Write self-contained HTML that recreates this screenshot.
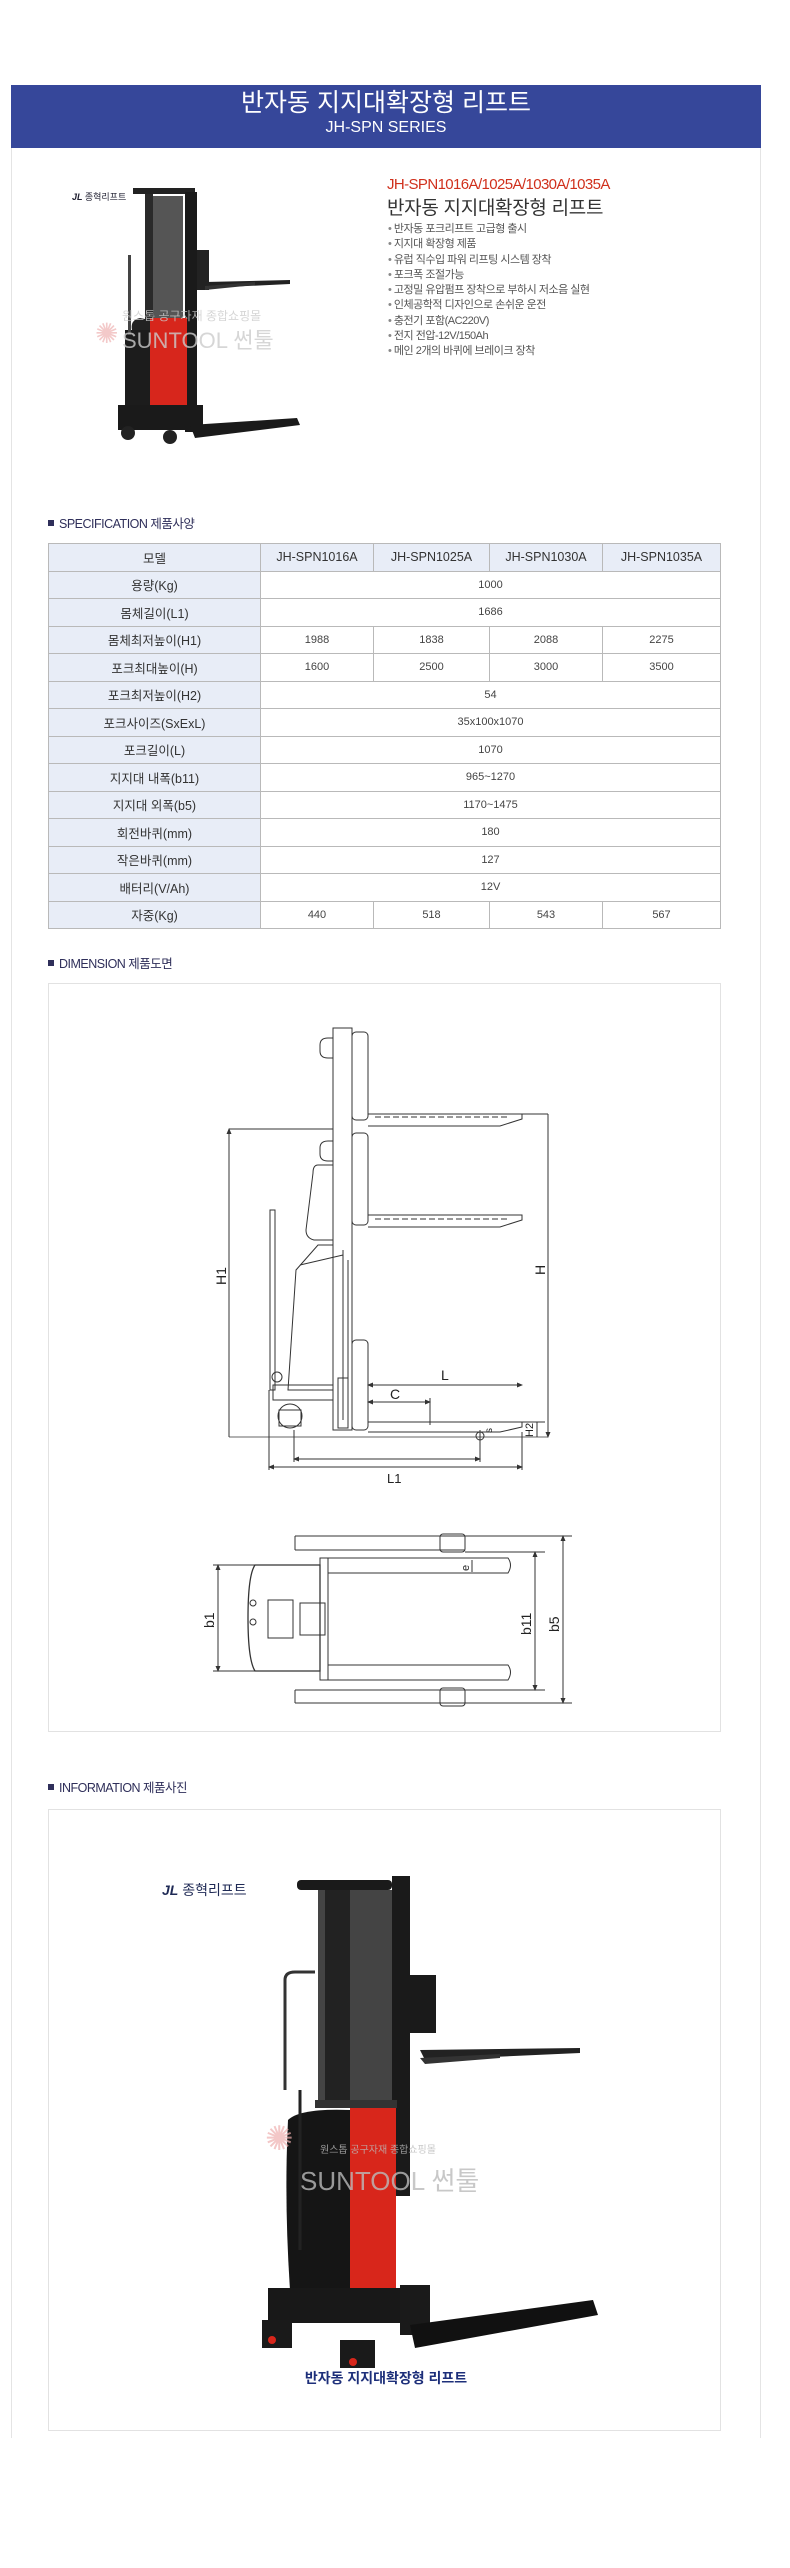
<!DOCTYPE html>
<html><head><meta charset="utf-8">
<style>
*{margin:0;padding:0;box-sizing:border-box}
body{width:790px;height:2568px;background:#fff;position:relative;font-family:"Liberation Sans","Noto Sans CJK KR",sans-serif;overflow:hidden}
.abs{position:absolute}
.hdr{left:11px;top:85px;width:750px;height:63px;background:#36479a;color:#fff;text-align:center}
.container{left:11px;top:148px;width:750px;height:2290px;border-left:1px solid #e4e4e4;border-right:1px solid #e4e4e4}
.h2{font-size:12.5px;color:#2f2f5a;letter-spacing:-0.5px}
.h2:before{content:"";display:inline-block;width:6px;height:6px;background:#2f2f5a;margin-right:5px;vertical-align:2px}
table{border-collapse:collapse;position:absolute;left:48px;top:543px;width:673px;font-size:11px;color:#444}
td{border:1px solid #b9b9b9;height:27.5px;text-align:center;padding:0}
td.l{background:#e8edf7;width:212px;font-size:12.5px;color:#333}
tr.hd td{background:#e8edf7;font-size:12.5px;color:#333}
.box{border:1px solid #e2e2e2;left:48px;width:673px}
ul{list-style:none}
li{font-size:11px;color:#555;height:15.3px;line-height:15.3px;letter-spacing:-0.5px}
li:before{content:"• ";color:#888}
</style></head><body>
<div class="abs container"></div>
<div class="abs hdr">
 <div style="font-size:25px;line-height:28px;padding-top:4px">반자동 지지대확장형 리프트</div>
 <div style="font-size:16px;line-height:22px">JH-SPN SERIES</div>
</div>

<div class="abs" style="left:387px;top:176px;font-size:15px;color:#d0301c;letter-spacing:-0.6px">JH-SPN1016A/1025A/1030A/1035A</div>
<div class="abs" style="left:387px;top:193px;font-size:19px;color:#333;letter-spacing:-0.3px">반자동 지지대확장형 리프트</div>
<ul class="abs" style="left:388px;top:222px">
<li>반자동 포크리프트 고급형 출시</li>
<li>지지대 확장형 제품</li>
<li>유럽 직수입 파워 리프팅 시스템 장착</li>
<li>포크폭 조절가능</li>
<li>고정밀 유압펌프 장착으로 부하시 저소음 실현</li>
<li>인체공학적 디자인으로 손쉬운 운전</li>
<li>충전기 포함(AC220V)</li>
<li>전지 전압-12V/150Ah</li>
<li>메인 2개의 바퀴에 브레이크 장착</li>
</ul>

<div class="abs h2" style="left:48px;top:513px">SPECIFICATION 제품사양</div>
<table>
<tr class="hd"><td class="l">모델</td><td style="width:113px">JH-SPN1016A</td><td style="width:116px">JH-SPN1025A</td><td style="width:113px">JH-SPN1030A</td><td>JH-SPN1035A</td></tr>
<tr><td class="l">용량(Kg)</td><td colspan="4">1000</td></tr>
<tr><td class="l">몸체길이(L1)</td><td colspan="4">1686</td></tr>
<tr><td class="l">몸체최저높이(H1)</td><td>1988</td><td>1838</td><td>2088</td><td>2275</td></tr>
<tr><td class="l">포크최대높이(H)</td><td>1600</td><td>2500</td><td>3000</td><td>3500</td></tr>
<tr><td class="l">포크최저높이(H2)</td><td colspan="4">54</td></tr>
<tr><td class="l">포크사이즈(SxExL)</td><td colspan="4">35x100x1070</td></tr>
<tr><td class="l">포크길이(L)</td><td colspan="4">1070</td></tr>
<tr><td class="l">지지대 내폭(b11)</td><td colspan="4">965~1270</td></tr>
<tr><td class="l">지지대 외폭(b5)</td><td colspan="4">1170~1475</td></tr>
<tr><td class="l">회전바퀴(mm)</td><td colspan="4">180</td></tr>
<tr><td class="l">작은바퀴(mm)</td><td colspan="4">127</td></tr>
<tr><td class="l">배터리(V/Ah)</td><td colspan="4">12V</td></tr>
<tr><td class="l">자중(Kg)</td><td>440</td><td>518</td><td>543</td><td>567</td></tr>
</table>

<div class="abs h2" style="left:48px;top:953px">DIMENSION 제품도면</div>
<div class="abs box" style="top:983px;height:749px"></div>
<div class="abs h2" style="left:48px;top:1777px">INFORMATION 제품사진</div>
<div class="abs box" style="top:1809px;height:622px"></div>

<svg class="abs" style="left:0;top:0" width="790" height="2568" viewBox="0 0 790 2568">
<defs><marker id="a" markerWidth="6" markerHeight="6" refX="5" refY="3" orient="auto-start-reverse"><path d="M0,0.5 L6,3 L0,5.5z" fill="#333"/></marker></defs>
<g>
 <text x="72" y="200" font-size="9" fill="#223" font-family="Liberation Sans,Noto Sans CJK KR,sans-serif" font-style="italic" font-weight="bold">JL <tspan font-style="normal" font-weight="normal">종혁리프트</tspan></text>
 <rect x="133" y="188" width="62" height="6" fill="#222"/>
 <rect x="145" y="194" width="8" height="215" fill="#2a2a2a"/>
 <rect x="153" y="196" width="30" height="140" fill="#555"/>
 <rect x="185" y="192" width="12" height="240" fill="#1a1a1a"/>
 <rect x="197" y="250" width="12" height="40" fill="#222"/>
 <path d="M205,282 L290,280 L290,284 L205,288z" fill="#222"/>
 <path d="M205,286 L255,282 L255,285 L205,290z" fill="#333"/>
 <path d="M132,330 Q130,320 140,318 L150,320 L150,410 L132,410z" fill="#222"/>
 <rect x="150" y="318" width="37" height="92" fill="#d7261c"/>
 <rect x="125" y="330" width="25" height="80" fill="#1c1c1c"/>
 <rect x="128" y="255" width="3" height="80" fill="#444"/>
 <rect x="118" y="405" width="85" height="25" fill="#1a1a1a"/>
 <path d="M190,425 L297,418 L300,425 L195,438z" fill="#1a1a1a"/>
 <circle cx="128" cy="433" r="7" fill="#222"/><circle cx="170" cy="437" r="7" fill="#222"/>
 <text x="95" y="343" font-size="28" fill="#eeb3b3" opacity=".7" font-family="Liberation Sans,sans-serif">✺</text>
 <text x="122" y="348" font-size="22" fill="#ccc" opacity=".8" font-family="Liberation Sans,Noto Sans CJK KR,sans-serif">SUNTOOL 썬툴</text>
 <text x="122" y="320" font-size="12" fill="#ccc" opacity=".8" font-family="Liberation Sans,Noto Sans CJK KR,sans-serif">원스톱 공구자재 종합쇼핑몰</text>
</g>

<g fill="none" stroke="#333" stroke-width="1">
 <rect x="333" y="1028" width="19" height="402"/>
 <rect x="352" y="1032" width="16" height="88" rx="4"/>
 <path d="M320,1045 q0,-7 8,-7 h5 v20 h-5 q-8,0 -8,-7z"/>
 <path d="M368,1114 H522 v5 l-22,7 H368"/><path d="M375,1117 H510" stroke-dasharray="6,3"/>
 <rect x="352" y="1133" width="16" height="92" rx="4"/>
 <path d="M320,1148 q0,-7 8,-7 h5 v20 h-5 q-8,0 -8,-7z"/>
 <path d="M368,1215 H522 v5 l-22,7 H368"/><path d="M375,1219 H510" stroke-dasharray="6,3"/>
 <path d="M229,1129 H333"/>
 <path d="M333,1165 H318 q-5,0 -5,8 L306,1230 q0,8 8,10 H333"/>
 <path d="M333,1245 H318 L296,1270 L288,1390 H333"/>
 <path d="M300,1265 L343,1255 M343,1250 V1420 M348,1260 V1380"/>
 <rect x="270" y="1210" width="5" height="180"/>
 <circle cx="277" cy="1377" r="5"/>
 <rect x="273" y="1385" width="60" height="15"/>
 <circle cx="290" cy="1416" r="12"/><rect x="279" y="1410" width="22" height="16"/>
 <rect x="338" y="1378" width="10" height="50"/>
 <rect x="352" y="1340" width="16" height="90" rx="4"/>
 <path d="M368,1422 H522 v5 l-22,5 H368"/>
 <path d="M229,1437 H548" stroke-width=".8"/>
 <path d="M229,1129 V1437 M548,1114 V1437" marker-start="url(#a)" marker-end="url(#a)"/>
 <path d="M522,1114 H548"/>
 <path d="M368,1385 H522" marker-start="url(#a)" marker-end="url(#a)"/>
 <path d="M368,1402 H430" marker-start="url(#a)" marker-end="url(#a)"/>
 <path d="M430,1398 V1425"/>
 <path d="M537,1422 V1437 M522,1422 H545"/>
 <path d="M269,1390 V1470 M522,1432 V1470 M294,1430 V1462 M480,1430 V1462"/>
 <path d="M269,1467 H522" marker-start="url(#a)" marker-end="url(#a)"/>
 <path d="M294,1459 H480" marker-start="url(#a)" marker-end="url(#a)"/>
 <circle cx="480" cy="1436" r="4"/>
</g>
<g font-family="Liberation Sans,sans-serif" font-size="14" fill="#222">
 <text transform="translate(226,1285) rotate(-90)">H1</text>
 <text transform="translate(545,1275) rotate(-90)">H</text>
 <text x="441" y="1380">L</text>
 <text x="390" y="1399">C</text>
 <text transform="translate(533,1437) rotate(-90)" font-size="11">H2</text>
 <text transform="translate(492,1433) rotate(-90)" font-size="10">s</text>
 <text x="387" y="1483" font-size="13">L1</text>
</g>

<g fill="none" stroke="#333" stroke-width="1">
 <path d="M295,1536 H465 M295,1550 H465 M295,1536 V1550 M295,1690 H465 M295,1703 H465 M295,1690 V1703"/>
 <rect x="440" y="1534" width="25" height="18" rx="3"/><rect x="440" y="1688" width="25" height="18" rx="3"/>
 <path d="M465,1536 H572 M465,1703 H572 M465,1552 H545 M465,1690 H545"/>
 <path d="M255,1565 H320 V1671 H255 Q248,1660 248,1618 Q248,1575 255,1565z" stroke-width="1.3"/>
 <rect x="268" y="1600" width="25" height="38"/><rect x="300" y="1603" width="25" height="32"/>
 <circle cx="253" cy="1603" r="3"/><circle cx="253" cy="1622" r="3"/>
 <rect x="320" y="1558" width="8" height="122"/>
 <path d="M328,1558 H508 q5,7 0,15 H328 M328,1665 H508 q5,7 0,15 H328"/>
 <path d="M218,1565 V1671" marker-start="url(#a)" marker-end="url(#a)"/>
 <path d="M213,1565 H255 M213,1671 H255"/>
 <path d="M535,1552 V1690" marker-start="url(#a)" marker-end="url(#a)"/>
 <path d="M563,1536 V1703" marker-start="url(#a)" marker-end="url(#a)"/>
 <path d="M472,1560 V1572"/>
</g>
<g font-family="Liberation Sans,sans-serif" font-size="14" fill="#222">
 <text transform="translate(214,1628) rotate(-90)">b1</text>
 <text transform="translate(531,1635) rotate(-90)">b11</text>
 <text transform="translate(559,1632) rotate(-90)">b5</text>
 <text transform="translate(469,1571) rotate(-90)" font-size="11">e</text>
</g>

<g>
 <text x="162" y="1895" font-size="14" fill="#1f2a55" font-family="Liberation Sans,Noto Sans CJK KR,sans-serif"><tspan font-style="italic" font-weight="bold">JL</tspan> 종혁리프트</text>
 <rect x="297" y="1880" width="95" height="10" rx="4" fill="#1a1a1a"/>
 <rect x="392" y="1876" width="18" height="320" fill="#1a1a1a"/>
 <rect x="318" y="1890" width="74" height="210" fill="#444"/>
 <rect x="325" y="1890" width="25" height="210" fill="#222"/>
 <rect x="410" y="1975" width="26" height="58" fill="#1a1a1a"/>
 <path d="M420,2050 L580,2048 L580,2053 L425,2060z" fill="#222"/>
 <path d="M420,2058 L500,2054 L500,2058 L425,2064z" fill="#333"/>
 <path d="M285,2090 V1980 q0,-8 10,-8 h20" fill="none" stroke="#333" stroke-width="3"/>
 <rect x="315" y="2100" width="82" height="8" fill="#333"/>
 <rect x="350" y="2108" width="46" height="180" fill="#d8261b"/>
 <path d="M288,2120 Q300,2108 350,2110 L350,2290 L290,2290 Q284,2200 288,2120z" fill="#151515"/>
 <path d="M300,2090 V2250" stroke="#222" stroke-width="3"/>
 <rect x="268" y="2288" width="160" height="35" fill="#181818"/>
 <rect x="400" y="2285" width="30" height="50" fill="#1a1a1a"/>
 <path d="M410,2325 L593,2300 L598,2315 L415,2348z" fill="#111"/>
 <rect x="262" y="2320" width="30" height="28" fill="#1a1a1a"/>
 <rect x="340" y="2340" width="35" height="28" fill="#1a1a1a"/>
 <circle cx="272" cy="2340" r="4" fill="#d8261b"/><circle cx="353" cy="2362" r="4" fill="#d8261b"/>
 <text x="265" y="2150" font-size="34" fill="#efb0b0" opacity=".7">✺</text>
 <text x="300" y="2190" font-size="26" fill="#bbb" opacity=".8" font-family="Liberation Sans,Noto Sans CJK KR,sans-serif">SUNTOOL 썬툴</text>
 <text x="320" y="2153" font-size="10" fill="#bbb" opacity=".8" font-family="Liberation Sans,Noto Sans CJK KR,sans-serif">원스톱 공구자재 종합쇼핑몰</text>
 <text x="386" y="2383" text-anchor="middle" font-size="14" font-weight="bold" fill="#1d2f7a" font-family="Liberation Sans,Noto Sans CJK KR,sans-serif">반자동 지지대확장형 리프트</text>
</g>
</svg>
</body></html>
